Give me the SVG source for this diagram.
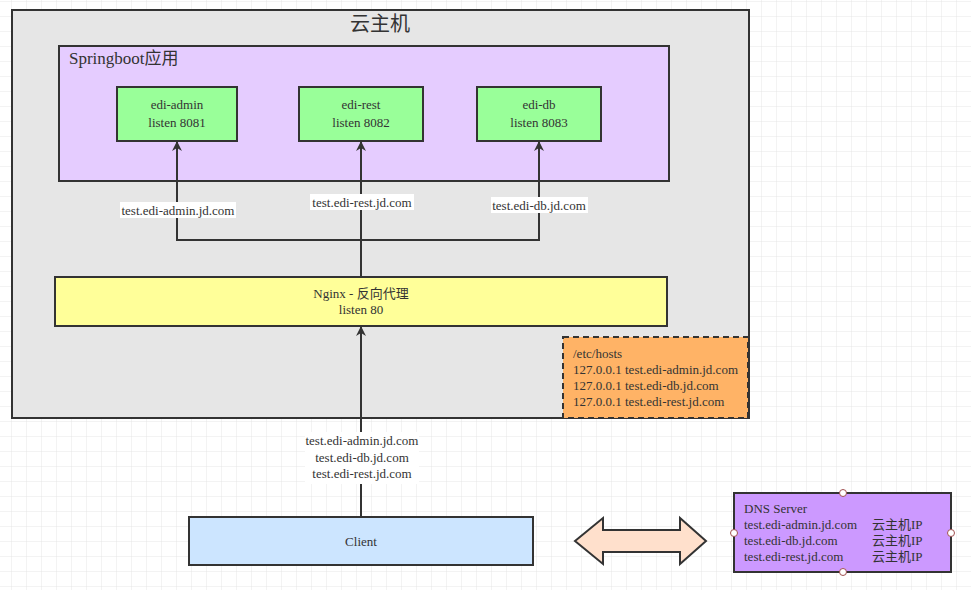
<svg xmlns="http://www.w3.org/2000/svg" width="971" height="590" viewBox="0 0 971 590" font-family="'Liberation Serif', 'Times New Roman', 'Noto Sans CJK SC', serif">
<defs>
<pattern id="grid" width="15" height="15" patternUnits="userSpaceOnUse" x="12" y="2">
<path d="M15 0V15M0 15H15" fill="none" stroke="#e6e6e6" stroke-width="1"/>
</pattern>
<marker id="arr" viewBox="0 0 10 10" refX="9" refY="5" markerWidth="10" markerHeight="10" markerUnits="userSpaceOnUse" orient="auto">
<path d="M0 0L10 5L0 10L3 5Z" fill="#333"/>
</marker>
<style>
text{fill:#333;font-size:13px}
.c{text-anchor:middle}
.box{stroke:#333;stroke-width:2}
.ln{stroke:#333;stroke-width:2;fill:none}
.lbl{fill:#fff}
.h{fill:#fff;stroke:#a05050;stroke-width:1}
</style>
</defs>
<rect width="971" height="590" fill="#fff"/>
<rect width="971" height="590" fill="url(#grid)"/>
<g id="host">
<rect x="12" y="10" width="737" height="408" fill="#e6e6e6" class="box"/>
<text x="380" y="31" class="c" style="font-size:20px">云主机</text>
</g>
<g id="springboot">
<rect x="59" y="46" width="610" height="135" fill="#e5ccff" class="box"/>
<text x="69" y="64" style="font-size:17px">Springboot应用</text>
</g>
<g id="edi-admin">
<rect x="117" y="87" width="120" height="54" fill="#99ff99" class="box"/>
<text x="177" y="109" class="c">edi-admin</text><text x="177" y="127" class="c">listen 8081</text>
</g>
<g id="edi-rest">
<rect x="299" y="87" width="124" height="54" fill="#99ff99" class="box"/>
<text x="361" y="109" class="c">edi-rest</text><text x="361" y="127" class="c">listen 8082</text>
</g>
<g id="edi-db">
<rect x="477" y="87" width="124" height="54" fill="#99ff99" class="box"/>
<text x="539" y="109" class="c">edi-db</text><text x="539" y="127" class="c">listen 8083</text>
</g>
<g id="nginx">
<rect x="55" y="277" width="612" height="49" fill="#ffff99" class="box"/>
<text x="361" y="298" class="c">Nginx - 反向代理</text><text x="361" y="314" class="c">listen 80</text>
</g>
<g id="hosts">
<rect x="563" y="337" width="185" height="81" fill="#ffb366" stroke="#333" stroke-width="2" stroke-dasharray="6,4"/>
<text x="573" y="358">/etc/hosts</text>
<text x="573" y="374">127.0.0.1 test.edi-admin.jd.com</text>
<text x="573" y="390">127.0.0.1 test.edi-db.jd.com</text>
<text x="573" y="406">127.0.0.1 test.edi-rest.jd.com</text>
</g>
<g id="client">
<rect x="189" y="517" width="344" height="48" fill="#cce5ff" class="box"/>
<text x="361" y="546" class="c">Client</text>
</g>
<g id="dns">
<rect x="734" y="493" width="217" height="79" fill="#cc99ff" class="box"/>
<text x="744" y="513">DNS Server</text>
<text x="744" y="529">test.edi-admin.jd.com</text><text x="872" y="529">云主机IP</text>
<text x="744" y="545">test.edi-db.jd.com</text><text x="872" y="545">云主机IP</text>
<text x="744" y="561">test.edi-rest.jd.com</text><text x="872" y="561">云主机IP</text>
<circle cx="843" cy="493" r="3.5" class="h"/><circle cx="843" cy="572" r="3.5" class="h"/>
<circle cx="734" cy="533" r="3.5" class="h"/><circle cx="951" cy="533" r="3.5" class="h"/>
</g>
<g id="connectors">
<path d="M361 277V240H177V142" class="ln" marker-end="url(#arr)"/>
<path d="M361 240V142" class="ln" marker-end="url(#arr)"/>
<path d="M361 240H539V142" class="ln" marker-end="url(#arr)"/>
<path d="M361 517V327" class="ln" marker-end="url(#arr)"/>
<rect x="120" y="202" width="116" height="16" class="lbl"/>
<text x="178" y="215" class="c">test.edi-admin.jd.com</text>
<rect x="310" y="194" width="104" height="16" class="lbl"/>
<text x="362" y="207" class="c">test.edi-rest.jd.com</text>
<rect x="491" y="197" width="97" height="16" class="lbl"/>
<text x="539" y="210" class="c">test.edi-db.jd.com</text>
<rect x="305" y="432" width="114" height="52" class="lbl"/>
<text x="362" y="445" class="c">test.edi-admin.jd.com</text>
<text x="362" y="462" class="c">test.edi-db.jd.com</text>
<text x="362" y="478" class="c">test.edi-rest.jd.com</text>
<path d="M575 541L603 518V530H680V518L706 541L680 564V552H603V564Z" fill="#ffe0cc" stroke="#333" stroke-width="2"/>
</g>
</svg>
